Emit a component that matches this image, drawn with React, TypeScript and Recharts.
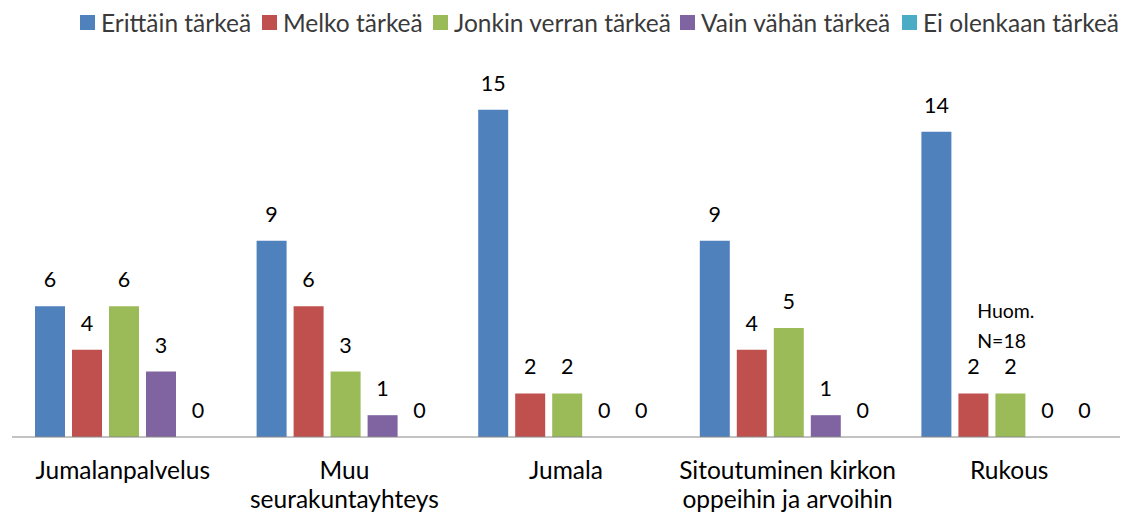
import React from "react"
import { BarChart, Bar, XAxis, YAxis, LabelList, ReferenceDot, Rectangle } from "recharts"

const categories = [
  ["Jumalanpalvelus"],
  ["Muu", "seurakuntayhteys"],
  ["Jumala"],
  ["Sitoutuminen kirkon", "oppeihin ja arvoihin"],
  ["Rukous"],
]
const seriesNames = ["Erittäin tärkeä", "Melko tärkeä", "Jonkin verran tärkeä", "Vain vähän tärkeä", "Ei olenkaan tärkeä"]
const seriesColors = ["#4F81BD", "#C0504D", "#9BBB59", "#8064A2", "#4BACC6"]
const erittain = [6, 9, 15, 9, 14]
const melko = [4, 6, 2, 4, 2]
const jonkin = [6, 3, 2, 5, 2]
const vainVahan = [3, 1, 0, 1, 0]
const eiOlenkaan = [0, 0, 0, 0, 0]
const seriesValues = [erittain, melko, jonkin, vainVahan, eiOlenkaan]
const noteLines = ["Huom.", "N=18"]

const FONT = "Lato, 'Open Sans', sans-serif"
const legendLefts = [80, 262, 433, 680, 902]

const data = categories.map((lines, i) => {
  const row: Record<string, string | number> = { name: lines.join(" ") }
  seriesValues.forEach((vals, s) => { row["s" + s] = vals[i] })
  return row
})
const labelLines: Record<string, string[]> = Object.fromEntries(categories.map((l) => [l.join(" "), l]))

function CategoryTick(props: any) {
  const { x, y, payload } = props
  const lines = labelLines[payload.value] || [payload.value]
  return (
    <g>
      {lines.map((t, i) => (
        <text key={i} x={x} y={y + 34 + i * 29} textAnchor="middle" fontSize={24.5} fill="#000" fontFamily={FONT}>{t}</text>
      ))}
    </g>
  )
}

function NoteLabel(props: any) {
  const vb = props.viewBox || {}
  const cx = vb.x + (vb.width || 0) / 2
  return (
    <g>
      {noteLines.map((t, i) => (
        <text key={i} x={cx - 32} y={vb.y + i * 30} textAnchor="start" fontSize={19.5} fill="#000" fontFamily={FONT}>{t}</text>
      ))}
    </g>
  )
}

// zero-valued bars get a tiny min size so their labels render, but draw no rect
function BarShape(props: any) {
  if (!props.value) return <g />
  return <Rectangle {...props} />
}

function LegendRow() {
  return (
    <div style={{ position: "absolute", left: 0, top: 8, width: 1122, height: 30, fontFamily: FONT, fontSize: 24.5, color: "#3a3a3a" }}>
      {seriesNames.map((n, i) => (
        <div key={n} style={{ position: "absolute", left: legendLefts[i], top: 0, display: "flex", alignItems: "center", whiteSpace: "nowrap" }}>
          <span style={{ display: "inline-block", width: 15, height: 15, background: seriesColors[i], marginRight: 6 }} />
          <span>{n}</span>
        </div>
      ))}
    </div>
  )
}

export default function App() {
  return (
    <div style={{ position: "absolute", left: 0, top: 0, width: 1122, height: 517, background: "#fff" }}>
      <LegendRow />
      <BarChart width={1122} height={517} data={data} margin={{ top: 88, right: 2, left: 12, bottom: 0 }} barCategoryGap={23} barGap={7}>
        <XAxis dataKey="name" height={80} axisLine={{ stroke: "#868686" }} tickLine={false} tick={<CategoryTick />} interval={0} />
        <YAxis hide domain={[0, 16]} />
        {seriesNames.map((n, i) => (
          <Bar key={n} dataKey={"s" + i} name={n} fill={seriesColors[i]} minPointSize={0.01} shape={<BarShape />} isAnimationActive={false}>
            <LabelList dataKey={"s" + i} position="top" offset={19} fill="#000" fontSize={21.5} fontFamily={FONT} />
          </Bar>
        ))}
        <ReferenceDot x={categories[4].join(" ")} y={5.46} r={0} label={<NoteLabel />} />
      </BarChart>
    </div>
  )
}
